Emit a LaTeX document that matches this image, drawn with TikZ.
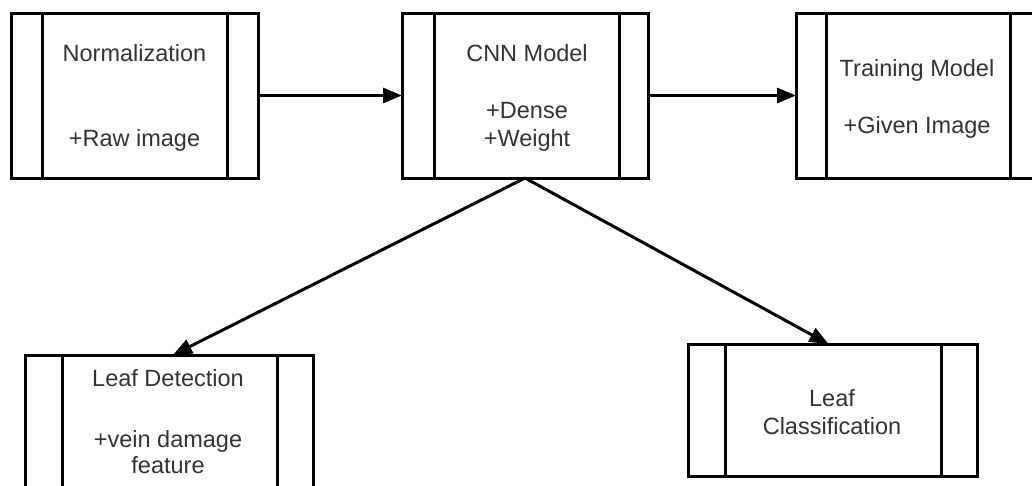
\documentclass[tikz,border=0pt]{standalone}
\usepackage{fontspec}
\setmainfont{Liberation Sans}
\usetikzlibrary{arrows.meta}
\definecolor{txtgray}{HTML}{333333}
\begin{document}
\begin{tikzpicture}[x=1pt,y=-1pt,
  proc/.style={draw=black, line width=3pt, rectangle, inner sep=0pt, outer sep=0pt},
  txt/.style={align=center, text=txtgray, inner sep=0pt, font=\fontsize{23.5}{28}\selectfont},
  conn/.style={line width=3pt, -{Triangle[length=19pt,width=15pt]}}]
\useasboundingbox (0,0) rectangle (1032,485);
\fill[white] (0,0) rectangle (1032,485);
\clip (0,0) rectangle (1032,485);
% boxes
\node[proc, minimum width=247pt, minimum height=165pt] (norm) at (134.5,95.5) {};
\node[proc, minimum width=246pt, minimum height=165pt] (cnn) at (525,95.5) {};
\node[proc, minimum width=246pt, minimum height=165pt] (train) at (919,95.5) {};
\node[proc, minimum width=288pt, minimum height=165pt] (det) at (169,437.5) {};
\node[proc, minimum width=289pt, minimum height=132pt] (cls) at (832.5,410) {};
% inner bars
\foreach \n/\a/\b in {norm/31/31, cnn/32/29, train/30/32, det/37/36, cls/37/36}{
  \draw[line width=3pt] ([xshift=\a pt]\n.north west) -- ([xshift=\a pt]\n.south west);
  \draw[line width=3pt] ([xshift=-\b pt]\n.north east) -- ([xshift=-\b pt]\n.south east);
}
% texts
\node[txt] (normT) at (134.5,97.5) {Normalization\\[57pt]+Raw image};
\node[txt] (cnnT) at (527,97.5) {CNN Model\\[29pt]+Dense\\+Weight};
\node[txt] (trainT) at (917,98.5) {Training Model\\[29pt]+Given Image};
\node[txt] (detT) at (168,422) {Leaf Detection\\[33pt]+vein damage\\[-2pt]feature};
\node[txt] (clsT) at (832,412) {Leaf\\Classification};
% connectors
\draw[conn] (norm.east) -- (cnn.west);
\draw[conn] (cnn.east) -- (train.west);
\draw[conn] (cnn.south) -- ([xshift=4pt]det.north);
\draw[conn] (cnn.south) -- ([xshift=-4pt]cls.north);
\end{tikzpicture}
\end{document}
